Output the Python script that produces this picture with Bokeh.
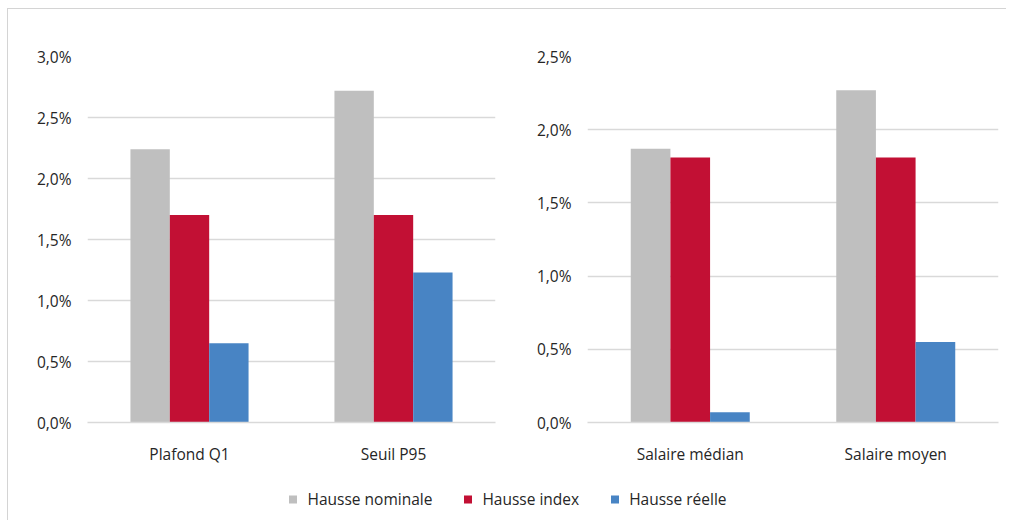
from bokeh.plotting import figure
from bokeh.models import FactorRange, Range1d, ColumnDataSource, FixedTicker, Legend, LegendItem
from bokeh.transform import dodge
from bokeh.layouts import column, row
from bokeh.embed import file_html
from bokeh.resources import INLINE

# ---- data ----
series = ["Hausse nominale", "Hausse index", "Hausse réelle"]
colors = ["#BFBFBF", "#C21034", "#4884C4"]

cats_left = ["Plafond Q1", "Seuil P95"]
nominal_left = [2.24, 2.72]
index_left = [1.70, 1.70]
reelle_left = [0.65, 1.23]
ticks_left = [0.0, 0.5, 1.0, 1.5, 2.0, 2.5, 3.0]
labels_left = ["0,0%", "0,5%", "1,0%", "1,5%", "2,0%", "2,5%", "3,0%"]

cats_right = ["Salaire médian", "Salaire moyen"]
nominal_right = [1.87, 2.27]
index_right = [1.81, 1.81]
reelle_right = [0.07, 0.55]
ticks_right = [0.0, 0.5, 1.0, 1.5, 2.0, 2.5]
labels_right = ["0,0%", "0,5%", "1,0%", "1,5%", "2,0%", "2,5%"]

FONT = "Open Sans"
FS = "15.5px"
TXT = "#262626"
GRID = "#D9D9D9"
BW = 0.193


def panel(cats, nom, idx, rea, ticks, labels, fw, bl, br):
    src = ColumnDataSource(dict(cat=cats, nom=nom, idx=idx, rea=rea))
    p = figure(x_range=FactorRange(factors=cats), y_range=Range1d(0, ticks[-1]),
               frame_width=fw, frame_height=366,
               min_border_left=bl, min_border_right=br, min_border_top=47, min_border_bottom=56,
               output_backend="svg", toolbar_location=None)
    for key, off, col in zip(["nom", "idx", "rea"], [-BW, 0, BW], colors):
        p.vbar(x=dodge("cat", off, range=p.x_range), top=key, width=BW, source=src,
               fill_color=col, line_color=None)
    p.outline_line_color = None
    p.background_fill_color = "white"
    p.border_fill_color = "white"
    p.xgrid.grid_line_color = None
    p.ygrid.grid_line_color = GRID
    p.ygrid.grid_line_width = 1.3
    p.yaxis.ticker = FixedTicker(ticks=ticks)
    p.yaxis.major_label_overrides = {t: l for t, l in zip(ticks, labels)}
    p.yaxis.axis_line_color = None
    p.yaxis.major_tick_line_color = None
    p.yaxis.minor_tick_line_color = None
    p.yaxis.major_label_standoff = 10
    p.xaxis.axis_line_color = GRID
    p.xaxis.axis_line_width = 1.3
    p.xaxis.major_tick_line_color = None
    p.xaxis.minor_tick_line_color = None
    p.xaxis.major_label_standoff = 14
    for ax in (p.xaxis, p.yaxis):
        ax.major_label_text_font = FONT
        ax.major_label_text_font_size = FS
        ax.major_label_text_color = TXT
    return p


p1 = panel(cats_left, nominal_left, index_left, reelle_left, ticks_left, labels_left, 408, 79, 36)
p2 = panel(cats_right, nominal_right, index_right, reelle_right, ticks_right, labels_right, 411, 56, 7)

leg = figure(width=998, height=42, x_range=Range1d(0, 1), y_range=Range1d(0, 1),
             min_border=0, output_backend="svg", toolbar_location=None)
leg.axis.visible = False
leg.grid.grid_line_color = None
leg.outline_line_color = None
items = []
for name, col in zip(series, colors):
    # dummy renderers placed outside the visible range, used only for the legend swatches
    r = leg.vbar(x=[5], top=[1], width=0.1, fill_color=col, line_color=None)
    items.append(LegendItem(label=name, renderers=[r]))
legend = Legend(items=items, orientation="horizontal", location="center",
                border_line_color=None, background_fill_alpha=0,
                glyph_width=10, glyph_height=10, label_standoff=10, spacing=30,
                label_text_font=FONT, label_text_font_size=FS, label_text_color=TXT)
leg.add_layout(legend, "center")

layout = column(row(p1, p2), leg,
                styles={"border-left": "1px solid #D4D4D4", "border-top": "1px solid #D4D4D4",
                        "margin-left": "7px", "margin-top": "8px"})

open("out.html", "w").write(file_html(layout, INLINE))
